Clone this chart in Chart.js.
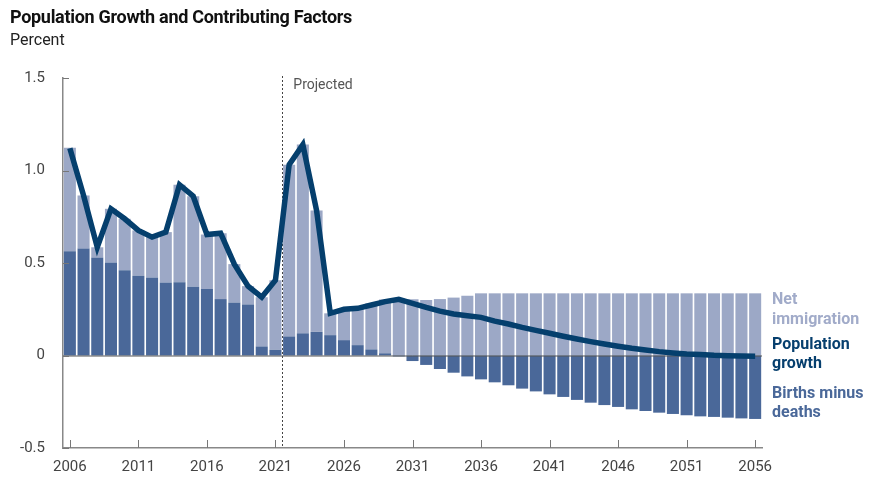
<!DOCTYPE html>
<html>
<head>
<meta charset="utf-8">
<script src="https://cdn.jsdelivr.net/npm/chart.js@4.4.1/dist/chart.umd.min.js"></script>
<style>
  body { margin: 0; background: #fff; font-family: Roboto, "Noto Sans", sans-serif; }
  #wrap { position: relative; width: 870px; height: 485px; }
  #title { position: absolute; left: 10px; top: 6px; font-size: 18px; font-weight: bold; color: #111; letter-spacing: -0.3px; }
  #sub { position: absolute; left: 10px; top: 30px; font-size: 16px; color: #222; }
  canvas { position: absolute; left: 0; top: 0; }
</style>
</head>
<body>
<div id="wrap">
  <canvas id="popChart" width="870" height="485"></canvas>
  <div id="title">Population Growth and Contributing Factors</div>
  <div id="sub">Percent</div>
</div>
<script>
// === data ===
const years = [];
for (let y = 2006; y <= 2056; y++) years.push(String(y));

const birthsMinusDeaths = [
  0.564, 0.578, 0.530, 0.503, 0.461, 0.431, 0.422, 0.395, 0.396, 0.371,
  0.359, 0.305, 0.286, 0.276, 0.049, 0.031, 0.103, 0.120, 0.128, 0.110,
  0.083, 0.056, 0.033, 0.012, -0.005, -0.030, -0.051, -0.073, -0.093, -0.113,
  -0.129, -0.145, -0.161, -0.179, -0.194, -0.210, -0.224, -0.240, -0.255, -0.268,
  -0.278, -0.291, -0.300, -0.309, -0.316, -0.323, -0.329, -0.332, -0.336, -0.340,
  -0.343
];

const netImmigration = [
  0.559, 0.287, 0.055, 0.290, 0.278, 0.245, 0.218, 0.272, 0.527, 0.490,
  0.295, 0.356, 0.208, 0.099, 0.266, 0.376, 0.928, 1.020, 0.656, 0.118,
  0.162, 0.199, 0.249, 0.291, 0.309, 0.304, 0.300, 0.305, 0.313, 0.323,
  0.336, 0.336, 0.336, 0.336, 0.336, 0.336, 0.336, 0.336, 0.336, 0.336,
  0.336, 0.336, 0.336, 0.336, 0.336, 0.336, 0.336, 0.336, 0.336, 0.336,
  0.336
];

const populationGrowth = [
  1.120, 0.865, 0.585, 0.793, 0.739, 0.676, 0.640, 0.667, 0.923, 0.861,
  0.654, 0.661, 0.494, 0.375, 0.315, 0.407, 1.031, 1.140, 0.784, 0.228,
  0.250, 0.255, 0.273, 0.291, 0.304, 0.282, 0.260, 0.240, 0.224, 0.215,
  0.206, 0.186, 0.170, 0.152, 0.136, 0.120, 0.104, 0.089, 0.075, 0.062,
  0.050, 0.039, 0.030, 0.021, 0.014, 0.008, 0.005, 0.001, -0.001, -0.003,
  -0.004
];

const yTicks = [-0.5, 0, 0.5, 1.0, 1.5];
const xTickYears = ['2006','2011','2016','2021','2026','2031','2036','2041','2046','2051','2056'];

// === extras: zero line, projected marker, inward ticks, right labels ===
const extras = {
  id: 'extras',
  beforeDatasetDraw(chart, args) {
    if (args.index !== 2) return;
    const { ctx, chartArea: a, scales: { x, y } } = chart;
    ctx.save();
    // zero line
    const y0 = y.getPixelForValue(0);
    ctx.strokeStyle = '#555';
    ctx.lineWidth = 1;
    ctx.beginPath();
    ctx.moveTo(a.left, y0 + 0.5);
    ctx.lineTo(a.right, y0 + 0.5);
    ctx.stroke();
    // projected divider
    const px = (x.getPixelForValue(15) + x.getPixelForValue(16)) / 2;
    ctx.strokeStyle = '#444';
    ctx.setLineDash([2, 2]);
    ctx.beginPath();
    ctx.moveTo(Math.round(px) + 0.5, a.top - 2);
    ctx.lineTo(Math.round(px) + 0.5, a.bottom);
    ctx.stroke();
    ctx.restore();
  },
  afterDraw(chart) {
    const { ctx, chartArea: a, scales: { x, y } } = chart;
    ctx.save();
    ctx.strokeStyle = '#777';
    ctx.lineWidth = 1;
    ctx.beginPath();
    yTicks.forEach(v => {
      const py = Math.round(y.getPixelForValue(v)) + 0.5;
      ctx.moveTo(a.left, py);
      ctx.lineTo(a.left + 6, py);
    });
    xTickYears.forEach(lbl => {
      const px = Math.round(x.getPixelForValue(years.indexOf(lbl))) + 0.5;
      ctx.moveTo(px, a.bottom);
      ctx.lineTo(px, a.bottom - 8);
    });
    ctx.stroke();

    const px = (x.getPixelForValue(15) + x.getPixelForValue(16)) / 2;
    ctx.fillStyle = '#555';
    ctx.font = '14px Roboto, "Noto Sans", sans-serif';
    ctx.textBaseline = 'middle';
    ctx.fillText('Projected', px + 11, a.top + 7);

    const lx = a.right + 10;
    ctx.font = 'bold 16px Roboto, "Noto Sans", sans-serif';
    ctx.fillStyle = '#a1abc9';
    ctx.fillText('Net', lx, 300);
    ctx.fillText('immigration', lx, 320);
    ctx.fillStyle = '#063f6e';
    ctx.fillText('Population', lx, 345);
    ctx.fillText('growth', lx, 364);
    ctx.fillStyle = '#4a6899';
    ctx.fillText('Births minus', lx, 394);
    ctx.fillText('deaths', lx, 413);
    ctx.restore();
  }
};

const ctx = document.getElementById('popChart').getContext('2d');

new Chart(ctx, {
  type: 'bar',
  data: {
    labels: years,
    datasets: [
      {
        label: 'Births minus deaths',
        data: birthsMinusDeaths,
        backgroundColor: '#4a6899',
        categoryPercentage: 1,
        barPercentage: 0.88,
        order: 2
      },
      {
        label: 'Net immigration',
        data: netImmigration,
        backgroundColor: '#9ca8c6',
        categoryPercentage: 1,
        barPercentage: 0.88,
        order: 3
      },
      {
        type: 'line',
        label: 'Population growth',
        data: populationGrowth,
        borderColor: '#053f6d',
        borderWidth: 5.5,
        pointRadius: 0,
        tension: 0,
        borderJoinStyle: 'miter',
        fill: false,
        stack: 'line',
        order: 1
      }
    ]
  },
  options: {
    responsive: false,
    animation: false,
    layout: { padding: { top: 78, right: 108, bottom: 0, left: 0 } },
    plugins: {
      legend: { display: false },
      tooltip: { enabled: false },
      title: { display: false }
    },
    scales: {
      x: {
        stacked: true,
        offset: true,
        grid: { display: false, drawTicks: false },
        border: { display: true, color: '#888', width: 1.5 },
        ticks: {
          autoSkip: false,
          maxRotation: 0,
          padding: 10,
          color: '#444',
          font: { family: 'Roboto, "Noto Sans", sans-serif', size: 15 },
          callback: function(v) {
            const l = years[v];
            return xTickYears.includes(l) ? l : '';
          }
        },
        afterFit: s => { s.height = 37; }
      },
      y: {
        stacked: true,
        min: -0.5,
        max: 1.5,
        grid: { display: false, drawTicks: false },
        border: { display: true, color: '#888', width: 1.5 },
        ticks: {
          stepSize: 0.5,
          padding: 18,
          color: '#444',
          font: { family: 'Roboto, "Noto Sans", sans-serif', size: 15 },
          callback: v => (v === 0 ? '0' : v.toFixed(1))
        },
        afterFit: s => { s.width = 63; }
      }
    }
  },
  plugins: [extras]
});
</script>
</body>
</html>
